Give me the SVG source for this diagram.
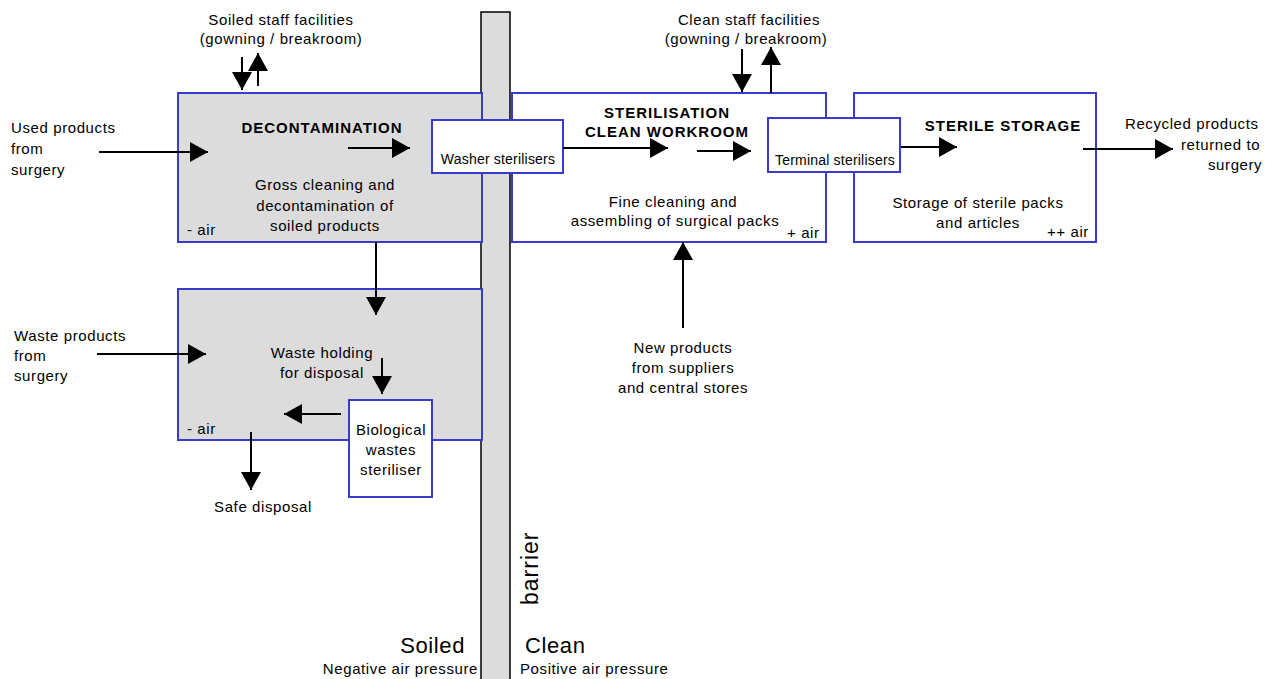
<svg xmlns="http://www.w3.org/2000/svg" width="1269" height="679" viewBox="0 0 1269 679">
<style>
text{font-family:"Liberation Sans",Arial,sans-serif;font-size:15px;fill:#000;letter-spacing:0.6px}
.b{font-weight:bold;letter-spacing:1px}
.s{font-size:14px;letter-spacing:0.2px}
.big{font-size:22px;letter-spacing:0.6px}
.bar{font-size:23px;letter-spacing:1px}
.m{text-anchor:middle}
.e{text-anchor:end}
.room{stroke:#3a3acc;stroke-width:2}
.grey{fill:#dcdcdc}
.white{fill:#fff}
.c line{stroke:#000;stroke-width:2;marker-end:url(#ah)}
</style>
<defs>
<marker id="ah" markerUnits="userSpaceOnUse" markerWidth="18" markerHeight="20" refX="18" refY="10" orient="auto">
<path d="M0,0 L18,10 L0,20 Z" fill="#000"/>
</marker>
</defs>
<rect width="1269" height="679" fill="#fff"/>
<g id="barrier">
<rect x="481" y="12" width="29" height="680" fill="#dcdcdc" stroke="#000" stroke-width="1.5"/>
<text class="bar" transform="translate(538,605) rotate(-90)">barrier</text>
</g>
<g id="decontamination">
<rect class="room grey" x="178" y="93" width="304" height="149"/>
<text class="b m" x="322" y="133">DECONTAMINATION</text>
<text class="m" x="325" y="190">Gross cleaning and</text>
<text class="m" x="325" y="211">decontamination of</text>
<text class="m" x="325" y="231">soiled products</text>
<text x="187" y="235">- air</text>
</g>
<g id="waste">
<rect class="room grey" x="178" y="289" width="304" height="151"/>
<text class="m" x="322" y="358">Waste holding</text>
<text class="m" x="322" y="378">for disposal</text>
<text x="187" y="434">- air</text>
</g>
<g id="sterilisation">
<rect class="room white" x="512" y="93" width="314" height="149"/>
<text class="b m" x="667" y="118">STERILISATION</text>
<text class="b m" x="667" y="137">CLEAN WORKROOM</text>
<text class="m" x="673" y="207">Fine cleaning and</text>
<text class="m" x="675" y="226">assembling of surgical packs</text>
<text x="787" y="238">+ air</text>
</g>
<g id="sterile-storage">
<rect class="room white" x="854" y="93" width="242" height="149"/>
<text class="b m" x="1003" y="131">STERILE STORAGE</text>
<text class="m" x="978" y="208">Storage of sterile packs</text>
<text class="m" x="978" y="228">and articles</text>
<text x="1047" y="237">++ air</text>
</g>
<g id="washer-sterilisers">
<rect class="room white" x="432" y="120" width="131" height="53"/>
<text class="s m" x="498" y="164">Washer sterilisers</text>
</g>
<g id="terminal-sterilisers">
<rect class="room white" x="768" y="118" width="132" height="54"/>
<text class="s m" x="835" y="165">Terminal sterilisers</text>
</g>
<g id="biological-steriliser">
<rect class="room white" x="349" y="400" width="83" height="97"/>
<text class="m" x="391" y="435">Biological</text>
<text class="m" x="391" y="455">wastes</text>
<text class="m" x="391" y="475">steriliser</text>
</g>
<g id="labels">
<text class="m" x="281" y="25">Soiled staff facilities</text>
<text class="m" x="281" y="44">(gowning / breakroom)</text>
<text class="m" x="749" y="25">Clean staff facilities</text>
<text class="m" x="746" y="44">(gowning / breakroom)</text>
<text x="11" y="133">Used products</text>
<text x="11" y="154">from</text>
<text x="11" y="175">surgery</text>
<text x="14" y="341">Waste products</text>
<text x="14" y="361">from</text>
<text x="14" y="381">surgery</text>
<text x="1125" y="129">Recycled products</text>
<text x="1181" y="150">returned to</text>
<text x="1208" y="170">surgery</text>
<text class="m" x="263" y="512">Safe disposal</text>
<text class="m" x="683" y="353">New products</text>
<text class="m" x="683" y="373">from suppliers</text>
<text class="m" x="683" y="393">and central stores</text>
<text class="big e" x="465" y="653">Soiled</text>
<text class="big" x="525" y="653">Clean</text>
<text class="e" x="478" y="674">Negative air pressure</text>
<text x="520" y="674">Positive air pressure</text>
</g>
<g id="connectors" class="c">
<line x1="99" y1="152" x2="208" y2="152"/>
<line x1="348" y1="148" x2="410" y2="148"/>
<line x1="242" y1="57" x2="242" y2="90"/>
<line x1="258" y1="86" x2="258" y2="53"/>
<line x1="563" y1="148" x2="668" y2="148"/>
<line x1="697" y1="151" x2="751" y2="151"/>
<line x1="742" y1="49" x2="742" y2="92"/>
<line x1="771" y1="93" x2="771" y2="47"/>
<line x1="901" y1="147" x2="957" y2="147"/>
<line x1="1083" y1="149" x2="1173" y2="149"/>
<line x1="376" y1="242" x2="376" y2="315"/>
<line x1="97" y1="354" x2="206" y2="354"/>
<line x1="382" y1="358" x2="382" y2="394"/>
<line x1="341" y1="414" x2="284" y2="414"/>
<line x1="251" y1="432" x2="251" y2="490"/>
<line x1="683" y1="328" x2="683" y2="242"/>
</g>
</svg>
